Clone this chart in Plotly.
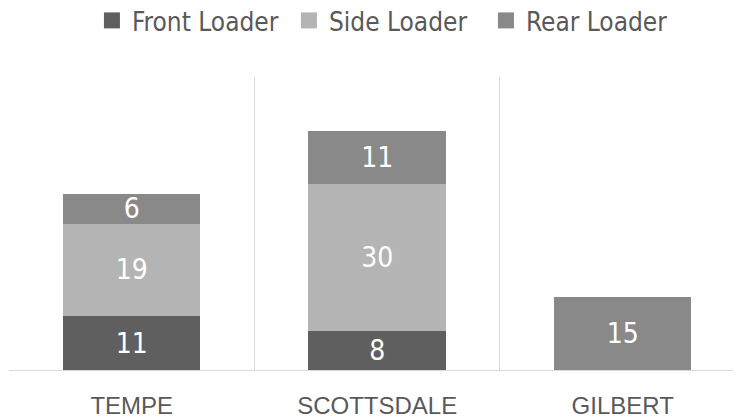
import plotly.graph_objects as go

categories = ["TEMPE", "SCOTTSDALE", "GILBERT"]
front_loader = [11, 8, None]
side_loader = [19, 30, None]
rear_loader = [6, 11, 15]

series = [
    ("Front Loader", front_loader, "#5f5f5f"),
    ("Side Loader", side_loader, "#b4b4b4"),
    ("Rear Loader", rear_loader, "#898989"),
]

NARROW = "Liberation Sans Narrow, DejaVu Sans Condensed, Roboto Condensed, Arial Narrow, sans-serif"

fig = go.Figure()
for name, vals, color in series:
    fig.add_trace(go.Bar(
        name=name, x=categories, y=vals,
        marker=dict(color=color, line=dict(width=0)),
        width=0.56,
        text=[("" if v is None else str(v)) for v in vals],
        textposition="inside", insidetextanchor="middle",
        textangle=0,
        textfont=dict(family=NARROW, size=28, color="#ffffff"),
        hoverinfo="skip",
        showlegend=False,
        legendgroup=name,
    ))
# legend entries with larger square swatches
for name, vals, color in series:
    fig.add_trace(go.Scatter(
        name=name, x=[None], y=[None], mode="markers",
        marker=dict(symbol="square", size=16, color=color),
        legendgroup=name, hoverinfo="skip",
    ))

fig.update_layout(
    barmode="stack",
    width=733, height=412,
    margin=dict(l=1, r=0, t=69, b=50, autoexpand=False),
    paper_bgcolor="#ffffff", plot_bgcolor="#ffffff",
    uniformtext=dict(minsize=28, mode="show"),
    legend=dict(
        orientation="h", x=0.517, xanchor="center", y=1.273, yref="paper",
        yanchor="top",
        font=dict(family=NARROW, size=26, color="#595959"),
        entrywidth=152, entrywidthmode="pixels",
        traceorder="normal",
    ),
    xaxis=dict(
        range=[-0.5, 2.482],
        showgrid=True, tickson="boundaries", gridcolor="#d9d9d9", gridwidth=1,
        showline=True, linecolor="#d9d9d9", linewidth=1,
        ticks="", ticklabelstandoff=14,
        tickfont=dict(family="Liberation Sans, Arial, sans-serif", size=24, color="#595959"),
        fixedrange=True,
    ),
    yaxis=dict(
        range=[0, 60], visible=False, showgrid=False, zeroline=False,
        fixedrange=True,
    ),
)

fig.write_html("out.html")
